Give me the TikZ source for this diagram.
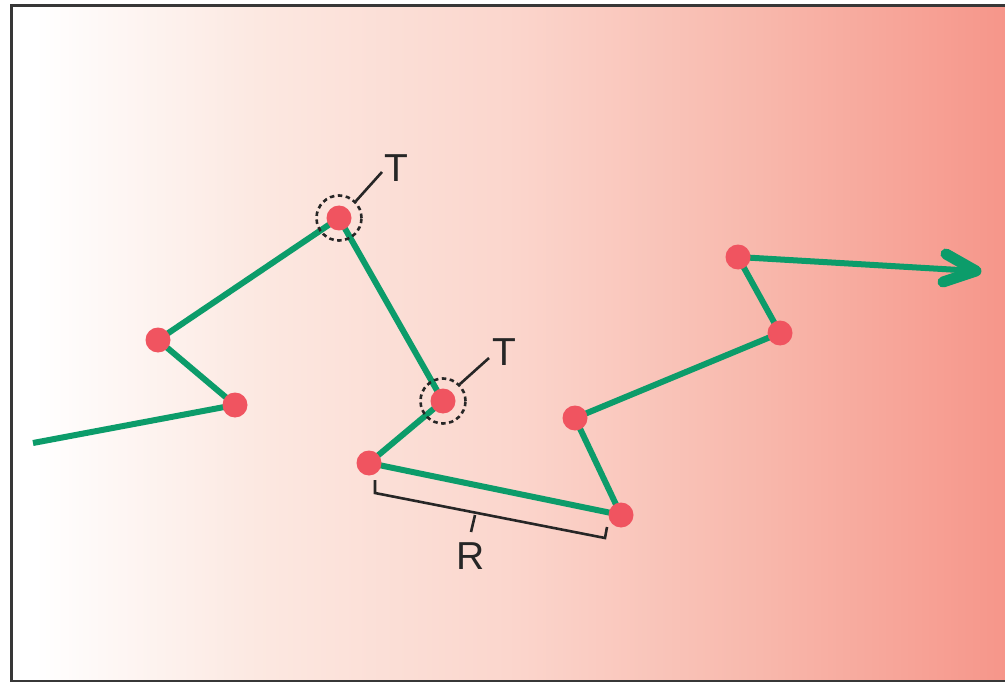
\documentclass[tikz,border=0pt]{standalone}
\usepackage{fontspec}
\setmainfont{Liberation Sans}
\pgfdeclarelayer{back}
\pgfdeclarelayer{lines}
\pgfsetlayers{back,lines,main}
\definecolor{grn}{RGB}{12,156,106}
\definecolor{dotred}{RGB}{240,84,96}
\definecolor{frame}{RGB}{55,55,55}
\pgfdeclarehorizontalshading{bgshade}{100bp}{%
  rgb(0bp)=(1,1,1); rgb(25bp)=(1,1,1); rgb(26.2bp)=(1,1,1);
  rgb(37.4bp)=(0.988,0.91,0.882);
  rgb(50bp)=(0.984,0.839,0.804);
  rgb(62.6bp)=(0.973,0.722,0.675);
  rgb(75bp)=(0.965,0.588,0.541);
  rgb(100bp)=(0.965,0.588,0.541)}
\tikzset{
  dot/.style={circle,fill=dotred,inner sep=0pt,minimum size=25pt},
  walk/.style={draw=grn,line width=6pt},
  headstyle/.style={draw=grn,line width=11pt,line cap=round,line join=round},
  tring/.style={draw=black!85,line width=2.6pt,dash pattern=on 4.5pt off 3.5pt,circle,inner sep=0pt,minimum size=45pt},
  lead/.style={draw=black!85,line width=2.6pt},
  lbl/.style={font=\fontsize{39}{39}\selectfont,text=black!85,inner sep=0pt}
}
\begin{document}
\begin{tikzpicture}[x=1pt,y=-1pt]
\useasboundingbox (0,0) rectangle (1005,682);
\begin{pgfonlayer}{back}
\shade[shading=bgshade] (11,6) rectangle (1005,681);
\draw[frame,line width=3pt] (1012,6) -- (11,6) -- (11,681) -- (1012,681);
\end{pgfonlayer}
% dots
\node[dot] (p1) at (235,405) {};
\node[dot] (p2) at (158,340) {};
\node[dot] (p3) at (339,218) {};
\node[dot] (p4) at (443,401) {};
\node[dot] (p5) at (369,463) {};
\node[dot] (p6) at (621,515) {};
\node[dot] (p7) at (575,418) {};
\node[dot] (p8) at (780,333) {};
\node[dot] (p9) at (738,257) {};
\coordinate (s) at (33,443);
\coordinate (e) at (976,271);
\coordinate (a1) at (946,254);
\coordinate (a2) at (943,282);
\begin{pgfonlayer}{lines}
\draw[walk] (s) -- (p1.center) -- (p2.center) -- (p3.center) -- (p4.center) -- (p5.center) -- (p6.center) -- (p7.center) -- (p8.center) -- (p9.center) -- (e);
\draw[headstyle] (a1) -- (e) -- (a2);
\end{pgfonlayer}
% T markers
\node[tring] (c1) at (p3) {};
\node[tring] (c2) at (p4) {};
\node[lbl] (t1) at (396,168) {T};
\node[lbl] (t2) at (504,352) {T};
\draw[lead] (c1.45) -- (382,172);
\draw[lead] (c2.45) -- (489,358);
% R bracket
\coordinate (b1) at (375,480);
\coordinate (b2) at (375,493);
\coordinate (b3) at (605,538);
\coordinate (b4) at (607,527);
\draw[lead,line join=miter] (b1) -- (b2) -- (b3) -- (b4);
\coordinate (m1) at (475,515);
\coordinate (m2) at (471,532);
\draw[lead] (m1) -- (m2);
\node[lbl] (r) at (471,556) {R};
\end{tikzpicture}
\end{document}
